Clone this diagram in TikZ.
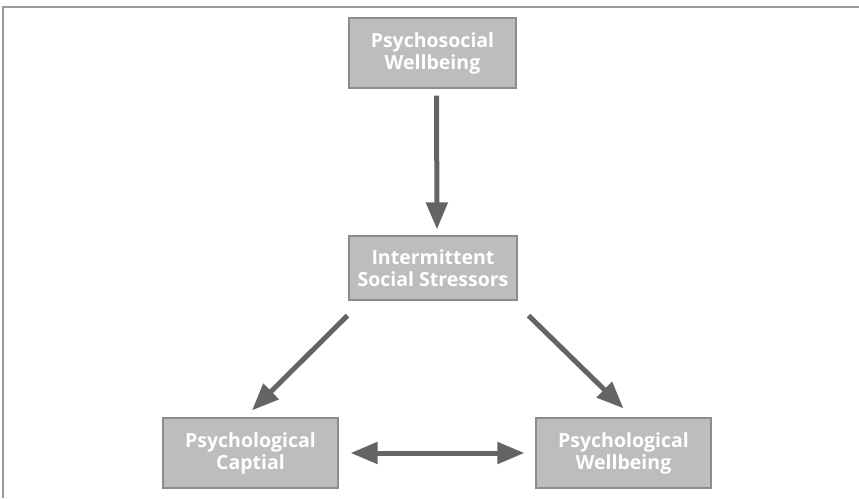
\documentclass[tikz,border=0pt]{standalone}
\usepackage{fontspec}
\setsansfont{Open Sans}
\usetikzlibrary{arrows.meta,calc,positioning}
\definecolor{boxfill}{HTML}{BDBDBE}
\definecolor{boxline}{HTML}{8C8C8E}
\definecolor{arrowgray}{HTML}{646466}
\definecolor{framegray}{HTML}{9A9A9C}

\begin{document}
\begin{tikzpicture}[
  x=1pt, y=-1pt,
  every node/.style={font=\sffamily\bfseries\fontsize{19.5}{22}\selectfont},
  factor/.style={draw=boxline, line width=1.2pt, fill=boxfill, text=white,
    align=center, inner sep=0pt, minimum width=175pt, minimum height=70pt},
  link/.style={arrowgray, line width=5pt,
    -{Triangle[length=27pt,width=21pt]}},
  bothlink/.style={link, {Triangle[length=27pt,width=21pt]}-{Triangle[length=27pt,width=21pt]}},
]
\useasboundingbox (0,0) rectangle (859,498);

% frame
\draw[framegray, line width=2.2pt] (3,498) -- (3,7) -- (859,7);

% boxes
\node[factor, minimum width=167pt] (psw) at (432.5,53) {Psychosocial\\Wellbeing};
\node[factor, minimum width=168pt, minimum height=64pt] (iss) at (433,268) {Intermittent\\Social Stressors};
\node[factor] (pcap) at (250.5,453) {Psychological\\Captial};
\node[factor] (pwb) at (623.5,453) {Psychological\\Wellbeing};

% arrows
\coordinate (downstart) at ($(psw.south)+(4,7)$);
\coordinate (downend) at ($(iss.north)+(4,-6)$);
\draw[link] (downstart) -- (downend);

\coordinate (leftstart) at ($(iss.south west)+(-1,15)$);
\coordinate (leftend) at ($(pcap.north)+(1.5,-7)$);
\draw[link] (leftstart) -- (leftend);

\coordinate (rightstart) at ($(iss.south east)+(11,15)$);
\coordinate (rightend) at ($(pwb.north)+(0,-9)$);
\draw[link] (rightstart) -- (rightend);

\draw[bothlink, shorten <=12pt, shorten >=11pt] (pcap.east) -- (pwb.west);

\end{tikzpicture}
\end{document}
